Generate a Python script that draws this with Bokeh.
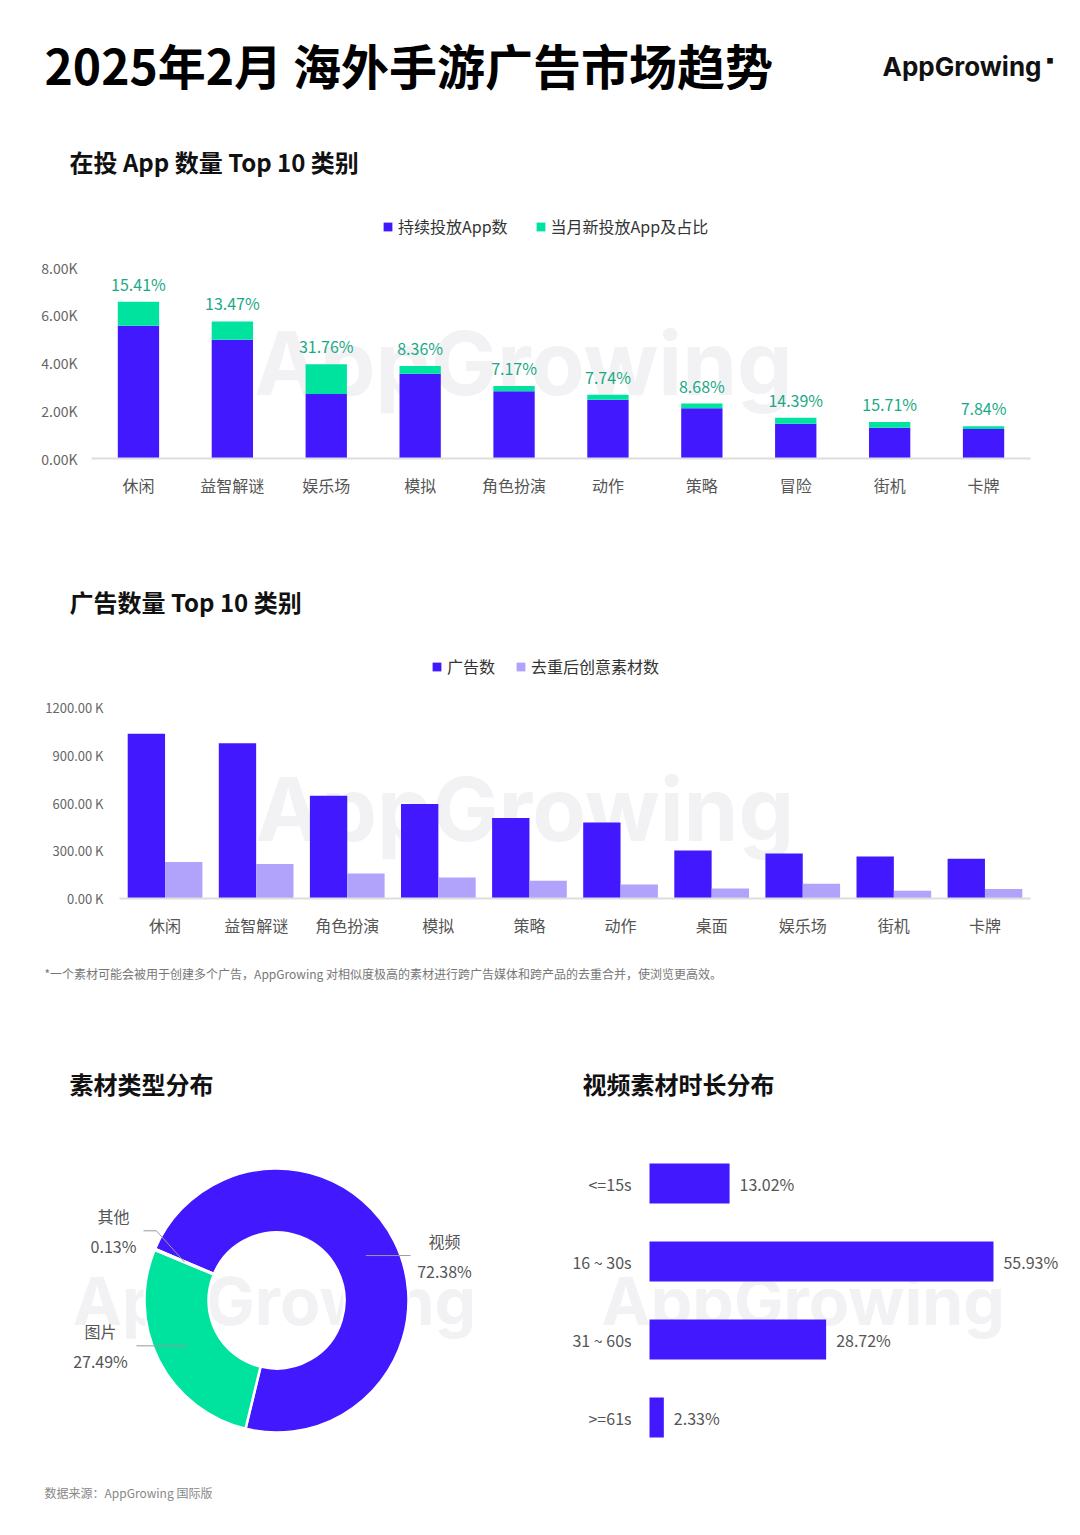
import math
from bokeh.plotting import figure
from bokeh.models import (Range1d, FactorRange, FixedTicker, CustomJSTickFormatter,
                          Legend, LegendItem, ColumnDataSource, Label)
from bokeh.layouts import column, row
from bokeh.transform import dodge
from bokeh.core.properties import value
from bokeh.embed import file_html
from bokeh.resources import INLINE

# ---------------- data ----------------
cats1 = ["休闲", "益智解谜", "娱乐场", "模拟", "角色扮演", "动作", "策略", "冒险", "街机", "卡牌"]
continuing_apps = [5560, 4970, 2700, 3550, 2820, 2460, 2100, 1460, 1290, 1240]
new_apps = [1010, 770, 1250, 320, 220, 210, 200, 250, 240, 110]
new_share = ["15.41%", "13.47%", "31.76%", "8.36%", "7.17%", "7.74%", "8.68%", "14.39%", "15.71%", "7.84%"]
ticks1 = [0, 2000, 4000, 6000, 8000]

cats2 = ["休闲", "益智解谜", "角色扮演", "模拟", "策略", "动作", "桌面", "娱乐场", "街机", "卡牌"]
ad_counts = [1035000, 976000, 646000, 594000, 506000, 478000, 302000, 283000, 264000, 249000]
creative_counts = [229000, 216000, 157000, 132000, 111000, 88000, 63000, 92000, 48000, 60000]
ticks2 = [0, 300000, 600000, 900000, 1200000]

types = ["视频", "图片", "其他"]
type_share = [72.38, 27.49, 0.13]

durations = ["<=15s", "16 ~ 30s", "31 ~ 60s", ">=61s"]
duration_share = [13.02, 55.93, 28.72, 2.33]

# ---------------- style ----------------
FONT = "Noto Sans CJK SC"
BLUE = "#4219FF"
GREEN = "#00E39F"
LILAC = "#B1A3FC"
TEAL_TXT = "#1BA985"
WM = "#F2F2F4"
W = 1064


def text_fig(h):
    p = figure(width=W, height=h, x_range=Range1d(0, W), y_range=Range1d(0, h),
               min_border=0, toolbar_location=None, output_backend="svg",
               x_axis_location=None, y_axis_location=None, frame_align=False)
    p.grid.visible = False
    p.outline_line_color = None
    return p


def put(p, top_ref, h, x_ref, y_ref, txt, size, color, bold=False, align="left", font=FONT):
    p.text(x=[x_ref], y=[h - (y_ref - top_ref)], text=[txt],
           text_font=value(font), text_font_size=f"{size}px", text_color=color,
           text_font_style="bold" if bold else "normal", text_align=align,
           text_baseline="middle")


def style_legend(lg, spacing):
    lg.orientation = "horizontal"
    lg.border_line_color = None
    lg.background_fill_alpha = 0
    lg.padding = 0
    lg.margin = 0
    lg.spacing = spacing
    lg.label_standoff = 5
    lg.glyph_width = 11
    lg.glyph_height = 11
    lg.label_height = 20
    lg.label_text_font = FONT
    lg.label_text_font_size = "16px"
    lg.label_text_color = "#333333"


def style_axes(p, ysize, ystand):
    p.grid.visible = False
    p.outline_line_color = None
    p.xaxis.axis_line_color = "#DDDDDD"
    p.xaxis.axis_line_width = 2
    p.xaxis.major_tick_line_color = None
    p.xaxis.minor_tick_line_color = None
    p.xaxis.major_label_text_font = FONT
    p.xaxis.major_label_text_font_size = "16px"
    p.xaxis.major_label_text_color = "#555555"
    p.xaxis.major_label_standoff = 8
    p.yaxis.axis_line_color = None
    p.yaxis.major_tick_line_color = None
    p.yaxis.minor_tick_line_color = None
    p.yaxis.major_label_text_font = FONT
    p.yaxis.major_label_text_font_size = ysize
    p.yaxis.major_label_text_color = "#666666"
    p.yaxis.major_label_standoff = ystand


def watermark(x, y, size):
    return Label(x=x, y=y, text="AppGrowing", text_font="Inter", text_font_style="bold",
                 text_font_size=f"{size}px", text_color=WM, text_align="center",
                 text_baseline="middle", level="underlay")


# ---------------- header ----------------
H0 = 190
f0 = text_fig(H0)
put(f0, 0, H0, 44, 63, "2025年2月 海外手游广告市场趋势", 48, "#000000", bold=True)
put(f0, 0, H0, 882, 66, "AppGrowing", 26, "#111111", bold=True, font="Inter")
put(f0, 0, H0, 1046, 59, "■", 7, "#111111")
put(f0, 0, H0, 69, 161, "在投 App 数量 Top 10 类别", 24, "#111111", bold=True)

# ---------------- chart 1 ----------------
H1 = 350
y1_end = ticks1[-1] * (458 - 190) / (458 - 267)
p1 = figure(width=W, height=H1, x_range=FactorRange(factors=cats1, range_padding=0),
            y_range=Range1d(0, y1_end), toolbar_location=None, output_backend="svg",
            min_border_left=91, min_border_right=W - 1030, min_border_top=0,
            min_border_bottom=82, frame_align=False)
src1 = ColumnDataSource(dict(cat=cats1, cont=continuing_apps, new=new_apps,
                             total=[a + b for a, b in zip(continuing_apps, new_apps)],
                             share=new_share))
p1.add_layout(watermark(4.6, 4000, 88))
rs1 = p1.vbar_stack(["cont", "new"], x="cat", width=0.44, color=[BLUE, GREEN],
                    line_color=None, source=src1)
p1.text(x="cat", y="total", text="share", source=src1, text_align="center",
        text_baseline="bottom", y_offset=-6, text_font=value(FONT),
        text_font_size="16px", text_color=TEAL_TXT)
style_axes(p1, "14px", 8)
p1.yaxis.ticker = FixedTicker(ticks=ticks1)
p1.yaxis.formatter = CustomJSTickFormatter(code="return (tick/1000).toFixed(2) + 'K';")
lg1 = Legend(items=[LegendItem(label="持续投放App数", renderers=[rs1[0]]),
                    LegendItem(label="当月新投放App及占比", renderers=[rs1[1]])],
             location=(382 - 91, 458 - 238))
style_legend(lg1, 27)
p1.add_layout(lg1)

# ---------------- section 2 title ----------------
H2 = 90
f2 = text_fig(H2)
put(f2, 540, H2, 69, 601, "广告数量 Top 10 类别", 24, "#111111", bold=True)

# ---------------- chart 2 ----------------
H3 = 315
y2_end = ticks2[-1] * (898 - 630) / (898 - 707)
p3 = figure(width=W, height=H3, x_range=FactorRange(factors=cats2, range_padding=0),
            y_range=Range1d(0, y2_end), toolbar_location=None, output_backend="svg",
            min_border_left=119, min_border_right=W - 1030, min_border_top=0,
            min_border_bottom=47, frame_align=False)
src2 = ColumnDataSource(dict(cat=cats2, ads=ad_counts, cre=creative_counts))
p3.add_layout(watermark(4.45, 560000, 88))
ra = p3.vbar(x=dodge("cat", -0.205, range=p3.x_range), top="ads", width=0.41,
             color=BLUE, line_color=None, source=src2)
rc = p3.vbar(x=dodge("cat", 0.205, range=p3.x_range), top="cre", width=0.41,
             color=LILAC, line_color=None, source=src2)
style_axes(p3, "13px", 10)
p3.yaxis.ticker = FixedTicker(ticks=ticks2)
p3.yaxis.formatter = CustomJSTickFormatter(code="return (tick/1000).toFixed(2) + ' K';")
lg3 = Legend(items=[LegendItem(label="广告数", renderers=[ra]),
                    LegendItem(label="去重后创意素材数", renderers=[rc])],
             location=(431 - 119, 898 - 678))
style_legend(lg3, 20)
p3.add_layout(lg3)

# ---------------- footnote + section titles ----------------
H4 = 175
f4 = text_fig(H4)
put(f4, 945, H4, 44, 973,
    "*一个素材可能会被用于创建多个广告，AppGrowing 对相似度极高的素材进行跨广告媒体和跨产品的去重合并，使浏览更高效。",
    12, "#777777")
put(f4, 945, H4, 69, 1083, "素材类型分布", 24, "#111111", bold=True)
put(f4, 945, H4, 582, 1083, "视频素材时长分布", 24, "#111111", bold=True)

# ---------------- donut ----------------
H5 = 350
p5 = figure(width=540, height=H5, x_range=Range1d(-276, 264), y_range=Range1d(-170, 180),
            min_border=0, toolbar_location=None, output_backend="svg",
            x_axis_location=None, y_axis_location=None, frame_align=False)
p5.grid.visible = False
p5.outline_line_color = None
p5.add_layout(watermark(-2, 0, 66))
start_deg = 157
starts, ends, acc = [], [], 0.0
for s in type_share:
    starts.append(math.radians(start_deg - acc * 3.6))
    acc += s
    ends.append(math.radians(start_deg - acc * 3.6))
p5.annular_wedge(x=0, y=0, inner_radius=68, outer_radius=132, start_angle=starts,
                 end_angle=ends, direction="clock", fill_color=[BLUE, GREEN, LILAC],
                 line_color="white", line_width=2.5)
line_end_x = [134, -140, -133]
text_x = [168, -176, -163]
lift = [0, 0, 31]
xs, ys, lx, ly_name, ly_pct, names, pcts = [], [], [], [], [], [], []
for i, t in enumerate(types):
    mid = (starts[i] + ends[i]) / 2
    ax, ay = 100 * math.cos(mid), 100 * math.sin(mid)
    sign = 1 if line_end_x[i] > 0 else -1
    ex, ey = ax + sign * lift[i] * 0.9, ay + lift[i]
    xs.append([ax, ex, line_end_x[i]])
    ys.append([ay, ey, ey])
    lx.append(text_x[i])
    ly_name.append(ey + 15)
    ly_pct.append(ey - 15)
    names.append(t)
    pcts.append(f"{type_share[i]:.2f}%")
p5.multi_line(xs, ys, line_color="#9A9A9A", line_width=1)
p5.text(x=lx, y=ly_name, text=names, text_font=value(FONT), text_font_size="16px",
        text_color="#555555", text_align="center", text_baseline="middle")
p5.text(x=lx, y=ly_pct, text=pcts, text_font=value(FONT), text_font_size="16px",
        text_color="#555555", text_align="center", text_baseline="middle")

# ---------------- duration bars ----------------
PX_PER_PCT = 6.15
p6 = figure(width=W - 540, height=H5, y_range=FactorRange(factors=durations[::-1]),
            x_range=Range1d(-(649 - 540) / PX_PER_PCT, (W - 649) / PX_PER_PCT),
            toolbar_location=None, output_backend="svg",
            min_border_left=0, min_border_right=0, min_border_top=24,
            min_border_bottom=14, x_axis_location=None, y_axis_location=None,
            frame_align=False)
p6.grid.visible = False
p6.outline_line_color = None
src6 = ColumnDataSource(dict(cat=durations, val=duration_share, zero=[0] * len(durations),
                             lab=[f"{v:.2f}%" for v in duration_share]))
p6.add_layout(watermark(25, 2.0, 66))
p6.hbar(y="cat", left=0, right="val", height=0.51, color=BLUE, line_color=None, source=src6)
p6.text(x="val", y="cat", text="lab", source=src6, x_offset=10, text_font=value(FONT),
        text_font_size="16px", text_color="#555555", text_baseline="middle")
p6.text(x="zero", y="cat", text="cat", source=src6, x_offset=-18, text_font=value(FONT),
        text_font_size="16px", text_color="#555555", text_baseline="middle",
        text_align="right")

# ---------------- source ----------------
H6 = 57
f6 = text_fig(H6)
put(f6, 1470, H6, 44, 1492, "数据来源：AppGrowing 国际版", 12, "#888888")

layout = column(f0, p1, f2, p3, f4, row(p5, p6, spacing=0), f6, spacing=0)

with open("out.html", "w") as fh:
    fh.write(file_html(layout, INLINE))
